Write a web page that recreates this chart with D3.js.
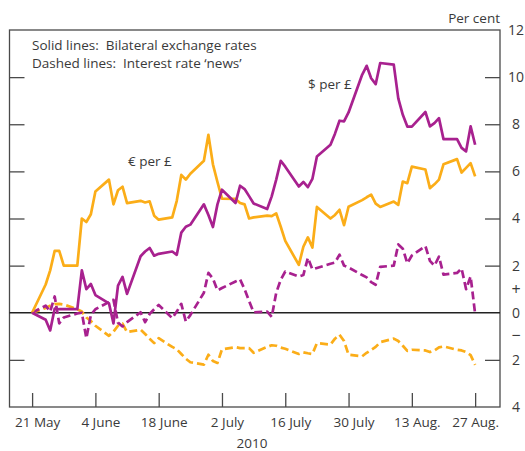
<!DOCTYPE html>
<html>
<head>
<meta charset="utf-8">
<script src="https://cdn.jsdelivr.net/npm/d3@7"></script>
<style>
  body { margin: 0; background: #fff; }
  svg text { font-family: "Open Sans", "Noto Sans", sans-serif; fill: #3a3a3a; }
</style>
</head>
<body>
<svg id="chart" width="525" height="451"></svg>
<script>
// business days, 21 May - 27 Aug 2010
const dates = [
  '2010-05-21',
  '2010-05-24', '2010-05-25', '2010-05-26', '2010-05-27', '2010-05-28',
  '2010-05-31', '2010-06-01', '2010-06-02', '2010-06-03', '2010-06-04',
  '2010-06-07', '2010-06-08', '2010-06-09', '2010-06-10', '2010-06-11',
  '2010-06-14', '2010-06-15', '2010-06-16', '2010-06-17', '2010-06-18',
  '2010-06-21', '2010-06-22', '2010-06-23', '2010-06-24', '2010-06-25',
  '2010-06-28', '2010-06-29', '2010-06-30', '2010-07-01', '2010-07-02',
  '2010-07-05', '2010-07-06', '2010-07-07', '2010-07-08', '2010-07-09',
  '2010-07-12', '2010-07-13', '2010-07-14', '2010-07-15', '2010-07-16',
  '2010-07-19', '2010-07-20', '2010-07-21', '2010-07-22', '2010-07-23',
  '2010-07-26', '2010-07-27', '2010-07-28', '2010-07-29', '2010-07-30',
  '2010-08-02', '2010-08-03', '2010-08-04', '2010-08-05', '2010-08-06',
  '2010-08-09', '2010-08-10', '2010-08-11', '2010-08-12', '2010-08-13',
  '2010-08-16', '2010-08-17', '2010-08-18', '2010-08-19', '2010-08-20',
  '2010-08-23', '2010-08-24', '2010-08-25', '2010-08-26', '2010-08-27'
];

// solid: bilateral exchange rates (% change since 21 May)
const usdPerGbp = [
  0,
  -0.3, -0.75, 0.18, 0.15, 0.15,
  0.15, 1.8, 1.0, 1.22, 0.75,
  0.4, -0.45, 1.15, 1.52, 0.8,
  2.4, 2.6, 2.75, 2.42, 2.5,
  2.6, 2.46, 3.4, 3.65, 3.74,
  4.6, 4.15, 3.64, 4.6, 5.22,
  4.66, 5.39, 5.25, 4.95, 4.64,
  4.4, 4.94, 5.65, 6.45, 6.2,
  5.36, 5.55, 5.33, 5.68, 6.63,
  7.13, 7.6, 8.15, 8.12, 8.5,
  10.1, 10.48, 9.95, 9.7, 10.6,
  10.53, 9.1, 8.4, 7.9, 7.9,
  8.52, 7.91, 8.05, 8.26, 7.37,
  7.37, 7.0, 6.85, 7.91, 7.13
];
const eurPerGbp = [
  0,
  1.2, 1.8, 2.63, 2.63, 2.0,
  2.0, 4.0, 3.85, 4.18, 5.15,
  5.65, 4.6, 5.2, 5.35, 4.65,
  4.75, 4.68, 4.73, 4.12, 3.95,
  4.05, 4.75, 5.85, 5.65, 5.9,
  6.45, 7.55, 6.3, 5.55, 4.84,
  4.83, 4.66, 4.6, 4.0, 4.05,
  4.12, 4.1, 4.22, 3.65, 3.05,
  2.03, 2.8, 3.2, 2.77, 4.49,
  4.0, 4.15, 4.37, 3.72, 4.5,
  4.78, 4.9, 5.01, 4.63, 4.49,
  4.72, 4.58, 5.57, 5.5, 6.2,
  6.08, 5.29, 5.45, 5.65, 6.3,
  6.52, 5.95, 6.15, 6.35, 5.79
];
// dashed: interest rate 'news'
const usNews = [
  0,
  0.3, 0.05, 0.69, -0.45, -0.2,
  -0.03, 0.0, -1.08, -0.1, 0.15,
  0.45, 0.55, -0.42, -0.58, -0.4,
  0.02, -0.4, -0.05, 0.15, 0.33,
  -0.23, 0.05, 0.38, -0.37, -0.1,
  0.85, 1.69, 1.45, 0.95, 1.05,
  1.33, 1.42, 1.0, 0.5, 0.02,
  0.05, -0.18, 0.85, 1.4, 1.75,
  1.54, 1.6, 2.33, 1.84, 1.9,
  2.08, 2.13, 2.46, 2.0, 1.92,
  1.6, 1.5, 1.3, 1.19, 1.95,
  2.0, 2.9, 2.72, 2.1, 2.43,
  2.83, 2.2, 2.0, 2.38, 1.62,
  1.69, 1.88, 1.0, 1.54, -0.05
];
const euroNews = [
  0,
  0.2, 0.3, 0.37, 0.38, 0.35,
  0.15, 0.05, -0.2, -0.35, -0.55,
  -0.98, -0.8, -0.55, -0.46, -0.82,
  -0.72, -0.9, -1.1, -1.29, -1.08,
  -1.45, -1.55, -1.75, -1.95, -2.1,
  -2.2, -1.78, -2.05, -2.13, -1.55,
  -1.46, -1.5, -1.5, -1.5, -1.7,
  -1.45, -1.38, -1.4, -1.48, -1.53,
  -1.75, -1.68, -1.72, -1.75, -1.29,
  -1.35, -1.1, -0.93, -1.2, -1.78,
  -1.85, -1.7, -1.58, -1.45, -1.25,
  -1.1, -1.2, -1.4, -1.62, -1.57,
  -1.6, -1.67, -1.6, -1.47, -1.43,
  -1.57, -1.6, -1.67, -1.8, -2.21
];

const xTicks = ['2010-05-21', '2010-06-04', '2010-06-18', '2010-07-02',
                '2010-07-16', '2010-07-30', '2010-08-13', '2010-08-27'];
const xTickLabels = ['21 May', '4 June', '18 June', '2 July',
                     '16 July', '30 July', '13 Aug.', '27 Aug.'];
const yTicks = [-4, -2, 0, 2, 4, 6, 8, 10, 12];

const purple = '#a8218f';
const orange = '#fbad18';
const axisColor = '#4a4a4a';

const parse = d3.timeParse('%Y-%m-%d');
const svg = d3.select('#chart');

const plotLeft = 9.5, plotRight = 500, plotTop = 30, plotBottom = 407;
const x = d3.scaleTime()
    .domain([new Date(2010, 4, 16), new Date(2010, 8, 1, 12)])
    .range([plotLeft, plotRight]);
const y = d3.scaleLinear().domain([-4, 12]).range([plotBottom, plotTop]);

// frame
svg.append('rect')
    .attr('x', plotLeft).attr('y', plotTop)
    .attr('width', plotRight - plotLeft).attr('height', plotBottom - plotTop)
    .attr('fill', 'none').attr('stroke', axisColor).attr('stroke-width', 1.3);

// left ticks (no labels)
const leftAxis = d3.axisRight(y).tickValues(yTicks.filter(v => v > -4 && v < 12 && v !== 0))
    .tickSizeInner(15).tickSizeOuter(0).tickFormat('');
svg.append('g').attr('transform', `translate(${plotLeft},0)`).call(leftAxis)
    .call(g => g.select('.domain').remove())
    .call(g => g.selectAll('line').attr('stroke', axisColor).attr('stroke-width', 1.3));

// right axis
const rightAxis = d3.axisRight(y).tickValues(yTicks)
    .tickSizeInner(-15).tickSizeOuter(0)
    .tickFormat(d => Math.abs(d));
svg.append('g').attr('transform', `translate(${plotRight},0)`).call(rightAxis)
    .call(g => g.select('.domain').remove())
    .call(g => g.selectAll('line').attr('stroke', axisColor).attr('stroke-width', 1.3)
        .filter(d => d === -4 || d === 12 || d === 0).remove())
    .call(g => g.selectAll('text')
        .attr('x', 16).attr('text-anchor', 'middle')
        .attr('font-size', 14).attr('fill', '#3a3a3a')
        .style('font-family', '"Open Sans", sans-serif'));

svg.append('text').attr('x', plotRight + 16).attr('y', y(1))
    .attr('dy', '0.35em').attr('text-anchor', 'middle').attr('font-size', 16).text('+');
svg.append('text').attr('x', plotRight + 16).attr('y', y(-1))
    .attr('dy', '0.32em').attr('text-anchor', 'middle').attr('font-size', 16).text('\u2212');

svg.append('text').attr('x', plotRight).attr('y', 23)
    .attr('text-anchor', 'end').attr('font-size', 13.5).text('Per cent');

// x axis
const xAxis = d3.axisBottom(x).tickValues(xTicks.map(parse))
    .tickSizeInner(-14).tickSizeOuter(0)
    .tickFormat((d, i) => xTickLabels[i]);
svg.append('g').attr('transform', `translate(0,${plotBottom})`).call(xAxis)
    .call(g => g.select('.domain').remove())
    .call(g => g.selectAll('line').attr('stroke', axisColor).attr('stroke-width', 1.3))
    .call(g => g.selectAll('text')
        .attr('y', 10).attr('dy', '0.71em')
        .attr('dx', (d, i) => i === xTicks.length - 1 ? 0 : 5)
        .attr('font-size', 13.5).attr('fill', '#3a3a3a')
        .style('font-family', '"Open Sans", sans-serif'));

svg.append('text').attr('x', 252).attr('y', 448)
    .attr('text-anchor', 'middle').attr('font-size', 13.5).text('2010');

// zero line
svg.append('line')
    .attr('x1', plotLeft).attr('x2', plotRight).attr('y1', y(0)).attr('y2', y(0))
    .attr('stroke', '#222').attr('stroke-width', 1.3);

// series
const series = [
  {values: euroNews, color: orange, dash: '8,4'},
  {values: usNews, color: purple, dash: '8,4'},
  {values: eurPerGbp, color: orange, dash: null},
  {values: usdPerGbp, color: purple, dash: null}
];
const line = d3.line()
    .x((d, i) => x(parse(dates[i])))
    .y(d => y(d));

svg.append('g').selectAll('path')
  .data(series)
  .join('path')
    .attr('d', d => line(d.values))
    .attr('fill', 'none')
    .attr('stroke', d => d.color)
    .attr('stroke-width', 2.7)
    .attr('stroke-linejoin', 'round')
    .attr('stroke-dasharray', d => d.dash);

// legend / labels
svg.append('text').attr('x', 32).attr('y', 49.5).attr('font-size', 13.5)
    .style('white-space', 'pre').text('Solid lines:  Bilateral exchange rates');
svg.append('text').attr('x', 32).attr('y', 67.5).attr('font-size', 13.5)
    .style('white-space', 'pre').text('Dashed lines:  Interest rate \u2018news\u2019');
svg.append('text').attr('x', 308).attr('y', 89).attr('font-size', 13.5).text('$ per \u00a3');
svg.append('text').attr('x', 128).attr('y', 166).attr('font-size', 13.5).text('\u20ac per \u00a3');
</script>
</body>
</html>
